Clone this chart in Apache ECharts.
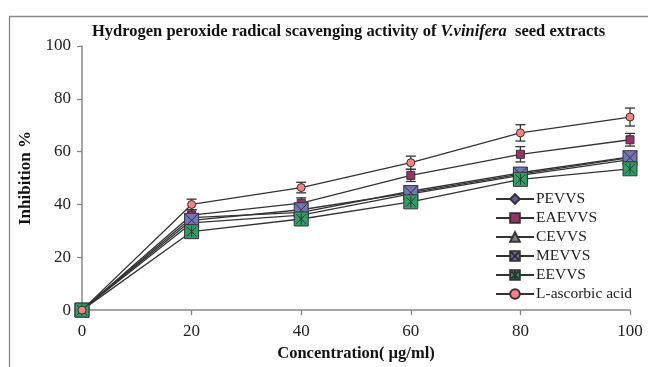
<!DOCTYPE html>
<html><head><meta charset="utf-8">
<script src="https://cdn.jsdelivr.net/npm/echarts@6/dist/echarts.min.js"></script>
<style>html,body{margin:0;padding:0;background:#fff}#c{width:648px;height:367px}</style>
</head><body><div id="c"></div>
<script>
const concentrations = [0, 20, 40, 60, 80, 100];
const seriesNames = ['PEVVS', 'EAEVVS', 'CEVVS', 'MEVVS', 'EEVVS', 'L-ascorbic acid'];
const pevvs = [0, 35, 37, 45, 52, 58];
const eaevvs = [0, 36, 40.5, 51, 59, 64.5];
const cevvs = [0, 33, 36, 44, 51, 57];
const mevvs = [0, 34, 38, 44.5, 51.5, 57.7];
const eevvs = [0, 29.7, 34.5, 41, 49.5, 53.5];
const ascorbic = [0, 40, 46.4, 55.8, 67.1, 73.1];
const eaevvsErr = [0, 2, 2, 2.3, 2.9, 2.4];
const ascorbicErr = [0, 2, 2, 2.5, 3.1, 3.4];
const xTicks = [0, 20, 40, 60, 80, 100];
const yTicks = [0, 20, 40, 60, 80, 100];

const FONT = '"Liberation Serif","Times New Roman",serif';
const boxX = 'path://M0,0 L10,0 L10,10 L0,10 Z M0,0 L10,10 M10,0 L0,10';
const boxStar = 'path://M0,0 L10,0 L10,10 L0,10 Z M1.5,1.5 L8.5,8.5 M8.5,1.5 L1.5,8.5 M5,1 L5,9';

function pts(arr){ return concentrations.map((c,i)=>[c, arr[i]]); }
function errData(vals, errs){ return concentrations.map((c,i)=>[c, vals[i]-errs[i], vals[i]+errs[i]]).filter((d,i)=>errs[i]>0); }

function errSeries(vals, errs){
  return {
    type:'custom', silent:true, z:3,
    data: errData(vals, errs),
    renderItem: function(params, api){
      const x = api.value(0), lo = api.value(1), hi = api.value(2);
      const p1 = api.coord([x, lo]), p2 = api.coord([x, hi]);
      const w = 5;
      const st = {stroke:'#333', lineWidth:1.3};
      return {type:'group', children:[
        {type:'line', shape:{x1:p1[0],y1:p1[1],x2:p2[0],y2:p2[1]}, style:st},
        {type:'line', shape:{x1:p1[0]-w,y1:p1[1],x2:p1[0]+w,y2:p1[1]}, style:st},
        {type:'line', shape:{x1:p2[0]-w,y1:p2[1],x2:p2[0]+w,y2:p2[1]}, style:st}
      ]};
    }
  };
}

const styles = [
  {symbol:'diamond', size:9, color:'#5a5aa8'},
  {symbol:'rect', size:8, color:'#993366'},
  {symbol:'triangle', size:9, color:'#808080'},
  {symbol:boxX, size:14, color:'#7474bb'},
  {symbol:boxStar, size:14, color:'#2ca066'},
  {symbol:'circle', size:8, color:'#ff8080'}
];
const valsList = [pevvs, eaevvs, cevvs, mevvs, eevvs, ascorbic];

const lineSeries = seriesNames.map((n,i)=>({
  name:n, type:'line', data:pts(valsList[i]), z:4+i,
  symbol:styles[i].symbol, symbolSize:styles[i].size, showSymbol:true,
  lineStyle:{color:'#333', width:1.3},
  itemStyle:{color:styles[i].color, borderColor:'#333', borderWidth:1},
  emphasis:{disabled:true}, animation:false
}));

const chart = echarts.init(document.getElementById('c'));
chart.setOption({
  animation:false,
  backgroundColor:'#fff',
  graphic:[{type:'rect', shape:{x:9.5,y:16.5,width:700,height:400}, style:{fill:null, stroke:'#888', lineWidth:1.3}, silent:true}],
  title:{
    text:'{b|Hydrogen peroxide radical scavenging activity of }{i|V.vinifera}{b|  seed extracts}',
    left:87, top:18,
    textStyle:{rich:{
      b:{fontFamily:FONT, fontWeight:'bold', fontSize:16.5, color:'#111'},
      i:{fontFamily:FONT, fontWeight:'bold', fontStyle:'italic', fontSize:16.5, color:'#111'}
    }}
  },
  legend:{
    orient:'vertical', left:490, top:186, itemWidth:38, itemHeight:12, itemGap:3,
    data:seriesNames,
    textStyle:{fontFamily:FONT, fontSize:15.5, color:'#222', padding:[0,0,0,-3]},
    selectedMode:false
  },
  grid:{left:82, right:18, top:46, bottom:55, containLabel:false},
  xAxis:{
    type:'value', min:0, max:100, interval:20,
    name:'Concentration( µg/ml)', nameLocation:'middle', nameGap:30,
    nameTextStyle:{fontFamily:FONT, fontWeight:'bold', fontSize:16.5, color:'#111'},
    axisLine:{lineStyle:{color:'#888', width:1.5}},
    axisTick:{show:true, length:5, lineStyle:{color:'#888', width:1.3}},
    axisLabel:{fontFamily:FONT, fontSize:17, color:'#222', margin:13,
      formatter:v=>xTicks.includes(v)?String(v):''},
    splitLine:{show:false}
  },
  yAxis:{
    type:'value', min:0, max:100, interval:20,
    name:'Inhibition %', nameLocation:'middle', nameGap:43,
    nameTextStyle:{fontFamily:FONT, fontWeight:'bold', fontSize:17, color:'#111'},
    axisLine:{show:true, lineStyle:{color:'#888', width:1.5}},
    axisTick:{show:true, length:5, lineStyle:{color:'#888', width:1.3}},
    axisLabel:{fontFamily:FONT, fontSize:17, color:'#222', margin:11,
      formatter:v=>yTicks.includes(v)?String(v):''},
    splitLine:{show:false}
  },
  series:[
    errSeries(eaevvs, eaevvsErr),
    errSeries(ascorbic, ascorbicErr),
    ...lineSeries
  ]
});
</script></body></html>
